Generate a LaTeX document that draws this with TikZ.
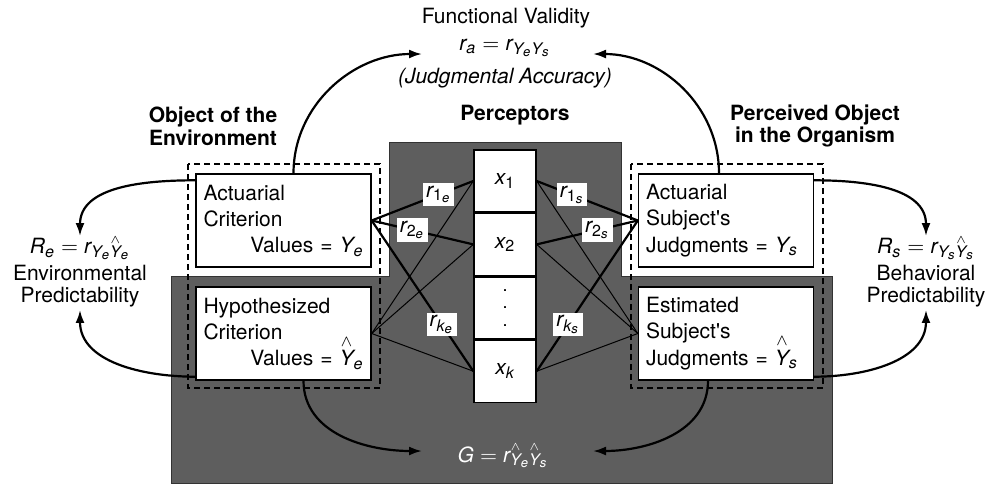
\documentclass[tikz,border=0pt]{standalone}
\usepackage{amsmath}
\usepackage{fontspec}
\setmainfont{TeX Gyre Heros}
\usetikzlibrary{positioning, arrows.meta}
\DeclareMathSizes{10.5}{10.5}{8}{6.5}
\newcommand{\lensfont}{\fontsize{10.5}{11.3}\selectfont}
\newcommand{\iv}[1]{\mathit{#1}}
\newcommand{\hY}{\smash[t]{\overset{\wedge}{\mathit{Y}}}}

\begin{document}
\begin{tikzpicture}[x=0.5pt, y=-0.5pt, font=\lensfont,
        lensbox/.style={draw, fill=white, line width=0.7pt, minimum width=87.5pt,
            minimum height=46.5pt, text width=80pt, align=left, inner sep=3.5pt,
            font=\fontsize{10.5}{13.2}\selectfont},
        cue/.style={draw, fill=white, line width=0.7pt, minimum width=31pt,
            minimum height=31pt, inner sep=0pt},
        rlabel/.style={fill=white, inner sep=1.5pt},
        heading/.style={align=center, font=\lensfont\bfseries},
        bendarrow/.style={-{Latex[length=6.5pt, width=4.5pt]}, line width=1.1pt}]
        \useasboundingbox (0,0) rectangle (1003,484);

        % dark ground of the lens
        \filldraw[fill=black!63, draw=black!80, line width=0.5pt] (389,142) -- (621,142)
            -- (621,276) -- (832,276) -- (832,483) -- (171,483) -- (171,276) -- (389,276) -- cycle;
        \draw[dash pattern=on 3pt off 2pt, line width=0.6pt] (188,164) rectangle (380,388);
        \draw[dash pattern=on 3pt off 2pt, line width=0.6pt] (631,164) rectangle (823,388);

        \node[lensbox] (AC) at (283.5,220.5) {Actuarial\\Criterion\\\makebox[80pt][r]{Values = $\iv{Y}_{\iv{e}}$}};
        \node[lensbox] (HC) at (283.5,333.5) {Hypothesized\\Criterion\\\makebox[80pt][r]{Values = $\hY_{\iv{e}}$}};
        \node[lensbox] (AS) at (726,220.5) {Actuarial\\Subject\textquotesingle s\\Judgments = $\iv{Y}_{\iv{s}}$};
        \node[lensbox] (ES) at (726,333.5) {Estimated\\Subject\textquotesingle s\\Judgments = $\hY_{\iv{s}}$};

        \node[cue] (X1) at (505,181) {$\iv{x}_{\mathrm{1}}$};
        \node[cue, below=0pt of X1] (X2) {$\iv{x}_{\mathrm{2}}$};
        \node[cue, below=0pt of X2, align=center, font=\fontsize{9}{8.8}\selectfont] (XD) {.\\.\\.};
        \node[cue, below=0pt of XD] (XK) {$\iv{x}_{\iv{k}}$};

        \foreach \c in {X1,X2,XK} {
            \draw[line width=0.5pt] (HC.east) -- (\c.west);
            \draw[line width=0.5pt] (\c.east) -- (ES.west);
        }
        \foreach \c/\idx/\p/\q in {X1/\mathrm{1}/0.66/0.35, X2/\mathrm{2}/0.4/0.6, XK/\iv{k}/0.69/0.31} {
            \draw[line width=1.1pt] (AC.east) -- (\c.west) node[rlabel, pos=\p] {$\iv{r}_{\idx_{\iv{e}}}$};
            \draw[line width=1.1pt] (\c.east) -- (AS.west) node[rlabel, pos=\q] {$\iv{r}_{\idx_{\iv{s}}}$};
        }

        \node (FV) at (506,18) {Functional Validity};
        \node (RA) at (505,48) {$\iv{r}_{\iv{a}} = \iv{r}_{\iv{Y}_{\iv{e}}\iv{Y}_{\iv{s}}}$};
        \node[font=\lensfont\itshape] (JA) at (505,78) {(Judgmental Accuracy)};
        \node[heading] (OE) at (213,126) {Object of the\\Environment};
        \node[heading] (PC) at (515,115) {Perceptors};
        \node[heading] (PO) at (815,126) {Perceived Object\\in the Organism};
        \node[align=center, inner sep=1pt] (EP) at (80,273)
            {$\iv{R}_{\iv{e}} = \iv{r}_{\iv{Y}_{\iv{e}}\hY_{\iv{e}}}$\\[2pt]Environmental\\Predictability};
        \node[align=center, inner sep=1pt] (BP) at (926,273)
            {$\iv{R}_{\iv{s}} = \iv{r}_{\iv{Y}_{\iv{s}}\hY_{\iv{s}}}$\\[2pt]Behavioral\\Predictability};
        \node[text=white] (G) at (503,457) {$\iv{G} = \iv{r}_{\hY_{\iv{e}}\hY_{\iv{s}}}$};

        \coordinate (VL) at (422,54);
        \coordinate (VR) at (593,54);
        \coordinate (GL) at (422,451);
        \coordinate (GR) at (593,451);

        \draw[bendarrow] ([xshift=5pt]AC.north) to[out=90, in=180] (VL);
        \draw[bendarrow] ([xshift=-3.5pt]AS.north) to[out=90, in=0] (VR);
        \draw[bendarrow] ([yshift=-3.5pt]AC.north west) to[out=180, in=90] (EP.north);
        \draw[bendarrow] ([yshift=2pt]HC.south west) to[out=180, in=-90] (EP.south);
        \draw[bendarrow] ([yshift=-3.5pt]AS.north east) to[out=0, in=90] (BP.north);
        \draw[bendarrow] ([yshift=2pt]ES.south east) to[out=0, in=-90] (BP.south);
        \draw[bendarrow] ([xshift=10pt]HC.south) to[out=-90, in=180] (GL);
        \draw[bendarrow] ([xshift=-9pt]ES.south) to[out=-90, in=0] (GR);
\end{tikzpicture}
\end{document}
